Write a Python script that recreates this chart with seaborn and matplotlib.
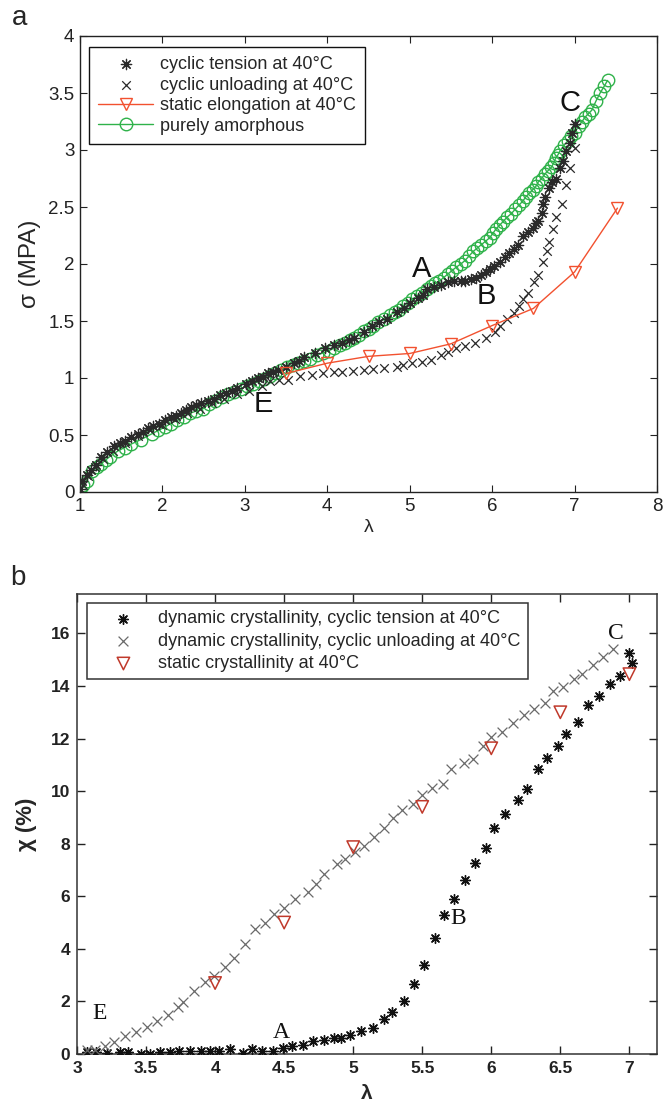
import numpy as np
import pandas as pd
import matplotlib
matplotlib.use("Agg")
import matplotlib.pyplot as plt
import seaborn as sns

sns.set_theme(style="ticks")
plt.rcParams['font.family'] = ['Liberation Sans', 'DejaVu Sans']

# ---------------- Panel a data ----------------
a_tension_lam = [1.00, 1.03, 1.08, 1.13, 1.19, 1.25, 1.33, 1.41, 1.48, 1.54, 1.62, 1.70, 1.76,
                 1.82, 1.89, 1.96, 2.03, 2.10, 2.16, 2.22, 2.29, 2.35, 2.41, 2.47, 2.55, 2.63,
                 2.70, 2.77, 2.84, 2.91, 3.01, 3.09, 3.16, 3.22, 3.28, 3.34, 3.40, 3.50, 3.60,
                 3.66, 3.72, 3.85, 3.97, 4.08, 4.18, 4.26, 4.33, 4.44, 4.54, 4.63, 4.72, 4.85,
                 4.93, 5.00, 5.10, 5.16, 5.21, 5.30, 5.38, 5.46, 5.54, 5.62, 5.67, 5.74, 5.80,
                 5.87, 5.92, 5.97, 6.02, 6.10, 6.16, 6.21, 6.26, 6.31, 6.38, 6.43, 6.49, 6.53,
                 6.56, 6.60, 6.62, 6.64, 6.69, 6.73, 6.77, 6.82, 6.86, 6.90, 6.94, 6.97, 7.01]
a_tension_sig = [0.03, 0.10, 0.15, 0.19, 0.24, 0.31, 0.35, 0.40, 0.43, 0.45, 0.48, 0.51, 0.53,
                 0.56, 0.58, 0.60, 0.63, 0.66, 0.67, 0.69, 0.72, 0.75, 0.76, 0.78, 0.80, 0.82,
                 0.85, 0.87, 0.89, 0.91, 0.95, 0.97, 1.00, 1.01, 1.04, 1.05, 1.07, 1.10, 1.13,
                 1.15, 1.18, 1.22, 1.26, 1.29, 1.31, 1.33, 1.35, 1.40, 1.46, 1.49, 1.52, 1.58,
                 1.61, 1.66, 1.70, 1.73, 1.78, 1.80, 1.82, 1.84, 1.85, 1.85, 1.85, 1.87, 1.88,
                 1.90, 1.93, 1.96, 1.98, 2.02, 2.06, 2.10, 2.13, 2.17, 2.25, 2.28, 2.32, 2.36,
                 2.38, 2.45, 2.53, 2.59, 2.67, 2.72, 2.75, 2.84, 2.90, 2.99, 3.06, 3.15, 3.23]

a_unload_lam = [7.00, 6.95, 6.89, 6.85, 6.78, 6.74, 6.69, 6.67, 6.62, 6.56, 6.51, 6.44, 6.38,
                6.33, 6.26, 6.18, 6.10, 6.03, 5.92, 5.79, 5.67, 5.56, 5.46, 5.38, 5.26, 5.15,
                5.03, 4.92, 4.85, 4.69, 4.56, 4.44, 4.31, 4.18, 4.08, 3.95, 3.82, 3.67, 3.52,
                3.42, 3.30, 3.21, 3.05, 2.90, 2.75, 2.60, 2.45, 2.30, 2.15, 2.00, 1.85, 1.70,
                1.55, 1.40, 1.28, 1.18, 1.10, 1.04]
a_unload_sig = [3.02, 2.84, 2.69, 2.53, 2.41, 2.31, 2.19, 2.11, 2.02, 1.90, 1.84, 1.75, 1.69,
                1.63, 1.57, 1.52, 1.46, 1.40, 1.35, 1.31, 1.28, 1.26, 1.23, 1.20, 1.16, 1.14,
                1.13, 1.11, 1.10, 1.09, 1.08, 1.07, 1.06, 1.05, 1.05, 1.04, 1.03, 1.02, 0.98,
                0.98, 0.97, 0.93, 0.89, 0.86, 0.82, 0.78, 0.73, 0.69, 0.64, 0.59, 0.54, 0.49,
                0.43, 0.36, 0.29, 0.22, 0.14, 0.06]

a_static_lam = [3.5, 4.0, 4.5, 5.0, 5.5, 6.0, 6.5, 7.0, 7.52]
a_static_sig = [1.04, 1.13, 1.19, 1.215, 1.30, 1.46, 1.61, 1.93, 2.49]

a_amorph_lam = [1.00, 1.04, 1.08, 1.15, 1.21, 1.26, 1.31, 1.36, 1.46, 1.54, 1.62, 1.74, 1.87,
                1.95, 2.03, 2.10, 2.18, 2.26, 2.33, 2.41, 2.49, 2.56, 2.64, 2.72, 2.79, 2.87,
                2.95, 3.02, 3.10, 3.17, 3.23, 3.30, 3.36, 3.44, 3.51, 3.58, 3.64, 3.72, 3.79,
                3.87, 3.95, 4.02, 4.08, 4.15, 4.21, 4.27, 4.33, 4.39, 4.44, 4.50, 4.56, 4.62,
                4.69, 4.76, 4.82, 4.87, 4.92, 4.98, 5.03, 5.09, 5.15, 5.21, 5.26, 5.31, 5.36,
                5.41, 5.46, 5.51, 5.56, 5.62, 5.67, 5.72, 5.77, 5.82, 5.87, 5.92, 5.97, 6.01,
                6.05, 6.09, 6.13, 6.18, 6.23, 6.28, 6.33, 6.37, 6.41, 6.45, 6.49, 6.53, 6.56,
                6.60, 6.64, 6.68, 6.72, 6.75, 6.77, 6.80, 6.82, 6.87, 6.92, 6.96, 7.00, 7.05,
                7.09, 7.13, 7.17, 7.21, 7.26, 7.31, 7.36, 7.40]
a_amorph_sig = [0.02, 0.06, 0.10, 0.18, 0.22, 0.25, 0.28, 0.31, 0.36, 0.39, 0.42, 0.46, 0.51,
                0.54, 0.57, 0.60, 0.63, 0.66, 0.69, 0.71, 0.73, 0.77, 0.80, 0.83, 0.86, 0.88,
                0.90, 0.93, 0.95, 0.97, 0.99, 1.02, 1.04, 1.07, 1.10, 1.11, 1.13, 1.15, 1.17,
                1.20, 1.22, 1.24, 1.26, 1.29, 1.31, 1.33, 1.35, 1.38, 1.41, 1.43, 1.46, 1.49,
                1.52, 1.55, 1.58, 1.60, 1.63, 1.66, 1.69, 1.72, 1.75, 1.78, 1.81, 1.83, 1.85,
                1.88, 1.91, 1.94, 1.97, 2.00, 2.03, 2.07, 2.11, 2.14, 2.17, 2.20, 2.23, 2.27,
                2.31, 2.34, 2.37, 2.41, 2.44, 2.48, 2.52, 2.55, 2.59, 2.62, 2.65, 2.68, 2.72,
                2.75, 2.79, 2.82, 2.85, 2.89, 2.93, 2.96, 2.99, 3.04, 3.08, 3.12, 3.15, 3.21,
                3.25, 3.29, 3.32, 3.35, 3.43, 3.50, 3.56, 3.61]

a_xticks = [1, 2, 3, 4, 5, 6, 7, 8]
a_yticks = [0, 0.5, 1, 1.5, 2, 2.5, 3, 3.5, 4]
a_yticklabels = ['0', '0.5', '1', '1.5', '2', '2.5', '3', '3.5', '4']
a_point_labels = ['A', 'B', 'C', 'E']
a_point_lam = [5.15, 5.93, 6.95, 3.23]
a_point_sig = [1.96, 1.72, 3.41, 0.77]

# ---------------- Panel b data ----------------
b_tension_lam = [3.07, 3.14, 3.22, 3.31, 3.37, 3.46, 3.53, 3.60, 3.67, 3.74, 3.82, 3.90, 3.96,
                 4.03, 4.11, 4.20, 4.27, 4.34, 4.42, 4.49, 4.56, 4.64, 4.71, 4.79, 4.86, 4.91,
                 4.98, 5.06, 5.14, 5.22, 5.28, 5.37, 5.44, 5.51, 5.59, 5.66, 5.73, 5.81, 5.88,
                 5.96, 6.02, 6.10, 6.19, 6.26, 6.34, 6.40, 6.48, 6.54, 6.63, 6.70, 6.78, 6.86,
                 6.93, 7.00, 7.02]
b_tension_chi = [0.09, 0.09, 0.03, 0.09, 0.09, 0.0, 0.0, 0.09, 0.09, 0.13, 0.13, 0.13, 0.13,
                 0.13, 0.19, 0.03, 0.19, 0.13, 0.13, 0.23, 0.29, 0.36, 0.49, 0.53, 0.60, 0.62,
                 0.73, 0.86, 0.98, 1.33, 1.59, 2.02, 2.66, 3.38, 4.41, 5.28, 5.90, 6.63, 7.27,
                 7.83, 8.60, 9.13, 9.66, 10.10, 10.83, 11.26, 11.72, 12.16, 12.62, 13.28, 13.63,
                 14.09, 14.38, 15.24, 14.88]

b_unload_lam = [3.07, 3.13, 3.20, 3.27, 3.35, 3.43, 3.51, 3.58, 3.66, 3.73, 3.77, 3.85, 3.93,
                3.99, 4.07, 4.14, 4.22, 4.29, 4.36, 4.43, 4.50, 4.58, 4.67, 4.73, 4.79, 4.88,
                4.94, 5.01, 5.08, 5.15, 5.22, 5.29, 5.35, 5.43, 5.50, 5.57, 5.65, 5.71, 5.80,
                5.87, 5.94, 6.00, 6.08, 6.16, 6.24, 6.31, 6.39, 6.45, 6.52, 6.60, 6.66, 6.74,
                6.81, 6.88]
b_unload_chi = [0.16, 0.16, 0.29, 0.47, 0.69, 0.85, 1.02, 1.25, 1.49, 1.78, 1.99, 2.39, 2.75,
                2.98, 3.31, 3.64, 4.17, 4.74, 4.98, 5.34, 5.54, 5.90, 6.17, 6.47, 6.84, 7.23,
                7.40, 7.67, 7.93, 8.24, 8.60, 8.96, 9.30, 9.50, 9.86, 10.13, 10.26, 10.83, 11.06,
                11.23, 11.72, 12.05, 12.25, 12.58, 12.88, 13.14, 13.34, 13.82, 13.98, 14.25,
                14.45, 14.78, 15.11, 15.42]

b_static_lam = [4.0, 4.5, 5.0, 5.5, 6.0, 6.5, 7.0]
b_static_chi = [2.7, 5.0, 7.87, 9.4, 11.63, 13.0, 14.45]

b_xticks = [3, 3.5, 4, 4.5, 5, 5.5, 6, 6.5, 7]
b_xticklabels = ['3', '3.5', '4', '4.5', '5', '5.5', '6', '6.5', '7']
b_yticks = [0, 2, 4, 6, 8, 10, 12, 14, 16]
b_point_labels = ['A', 'B', 'C', 'E']
b_point_lam = [4.48, 5.76, 6.90, 3.16]
b_point_chi = [0.8, 5.15, 16.0, 1.55]

# ---------------- Figure ----------------
W, H = 663, 1108
fig = plt.figure(figsize=(W / 100, H / 100), dpi=100)
fig.patch.set_facecolor('white')

def px_axes(l, t, r, b):
    return fig.add_axes([l / W, 1 - b / H, (r - l) / W, (b - t) / H])

ax1 = px_axes(80, 36, 657, 492)
ax2 = px_axes(77, 594, 657, 1054)

AST = (8, 2, 0)
RED_A = '#f2512f'
GREEN = '#2fb24a'

# Panel a
sns.scatterplot(x=a_tension_lam, y=a_tension_sig, ax=ax1, marker=AST, s=55, color='#2a2a2a',
                linewidth=0.9, label='cyclic tension at 40°C', zorder=3)
sns.scatterplot(x=a_unload_lam, y=a_unload_sig, ax=ax1, marker='x', s=38, color='#2a2a2a',
                linewidth=0.9, label='cyclic unloading at 40°C', zorder=3)
sns.lineplot(x=a_static_lam, y=a_static_sig, ax=ax1, color=RED_A, linewidth=1.0, marker='v',
             markersize=9, markerfacecolor='none', markeredgecolor=RED_A, markeredgewidth=1.0,
             sort=False, estimator=None, label='static elongation at 40°C', zorder=4)
sns.lineplot(x=a_amorph_lam, y=a_amorph_sig, ax=ax1, color=GREEN, linewidth=1.0, marker='o',
             markersize=9, markerfacecolor='none', markeredgecolor=GREEN, markeredgewidth=1.0,
             sort=False, estimator=None, label='purely amorphous', zorder=2)

ax1.set_xlim(1, 8)
ax1.set_ylim(0, 4)
ax1.set_xticks(a_xticks)
ax1.set_yticks(a_yticks)
ax1.set_yticklabels(a_yticklabels)
ax1.tick_params(direction='in', top=True, right=True, length=5, width=0.8,
                labelsize=13.5, colors='#222222', pad=4)
for sp in ax1.spines.values():
    sp.set_linewidth(1.0)
    sp.set_color('#222222')
ax1.set_xlabel('λ', fontsize=14, labelpad=3)
ax1.set_ylabel('σ (MPA)', fontsize=17.5, labelpad=5)
for t, x, y in zip(a_point_labels, a_point_lam, a_point_sig):
    ax1.text(x, y, t, fontsize=21, ha='center', va='center', color='#111111', zorder=5)

h, l = ax1.get_legend_handles_labels()
leg = ax1.legend(h, l, loc='upper left', bbox_to_anchor=(0.0156, 0.976), borderaxespad=0,
                 fontsize=13, frameon=True, fancybox=False, edgecolor='#111111',
                 handlelength=3.05, handletextpad=0.4, labelspacing=0.2, borderpad=0.5)
leg.get_frame().set_linewidth(1.0)
leg.get_frame().set_alpha(1)

# Panel b
sns.scatterplot(x=b_tension_lam, y=b_tension_chi, ax=ax2, marker=AST, s=50, color='#111111',
                linewidth=1.0, label='dynamic crystallinity, cyclic tension at 40°C', zorder=3)
sns.scatterplot(x=b_unload_lam, y=b_unload_chi, ax=ax2, marker='x', s=50, color='#6a6a6a',
                linewidth=0.9, label='dynamic crystallinity, cyclic unloading at 40°C', zorder=3)
sns.scatterplot(x=b_static_lam, y=b_static_chi, ax=ax2, marker='v', s=80, facecolors='none',
                edgecolor='#c0392b', linewidth=1.1, label='static crystallinity at 40°C', zorder=4)

ax2.set_xlim(3, 7.2)
ax2.set_ylim(0, 17.5)
ax2.set_xticks(b_xticks)
ax2.set_xticklabels(b_xticklabels)
ax2.set_yticks(b_yticks)
ax2.tick_params(direction='in', top=True, right=True, length=6, width=1.0,
                labelsize=12.5, colors='#222222', pad=5)
for lab in ax2.get_xticklabels() + ax2.get_yticklabels():
    lab.set_fontweight('bold')
for sp in ax2.spines.values():
    sp.set_linewidth(1.1)
    sp.set_color('#333333')
ax2.set_xlabel('λ', fontsize=15, fontweight='bold', labelpad=6)
ax2.set_ylabel('χ (%)', fontsize=16, fontweight='bold', labelpad=10)
for t, x, y in zip(b_point_labels, b_point_lam, b_point_chi):
    ax2.text(x, y, t, fontsize=17, ha='center', va='center', color='#111111',
             family=['Liberation Serif', 'DejaVu Serif'], zorder=5)

h2, l2 = ax2.get_legend_handles_labels()
leg2 = ax2.legend(h2, l2, loc='upper left', bbox_to_anchor=(0.017, 0.980), borderaxespad=0,
                  fontsize=13, frameon=True, fancybox=False, edgecolor='#333333',
                  handlelength=3.25, handletextpad=0.3, labelspacing=0.3, borderpad=0.4)
leg2.get_frame().set_linewidth(1.1)
leg2.get_frame().set_alpha(1)

fig.text(20 / W, 1 - 18 / H, 'a', fontsize=20, ha='center', va='center')
fig.text(18 / W, 1 - 578 / H, 'b', fontsize=20, ha='center', va='center')

fig.savefig('out.png', dpi=100, facecolor='white')
